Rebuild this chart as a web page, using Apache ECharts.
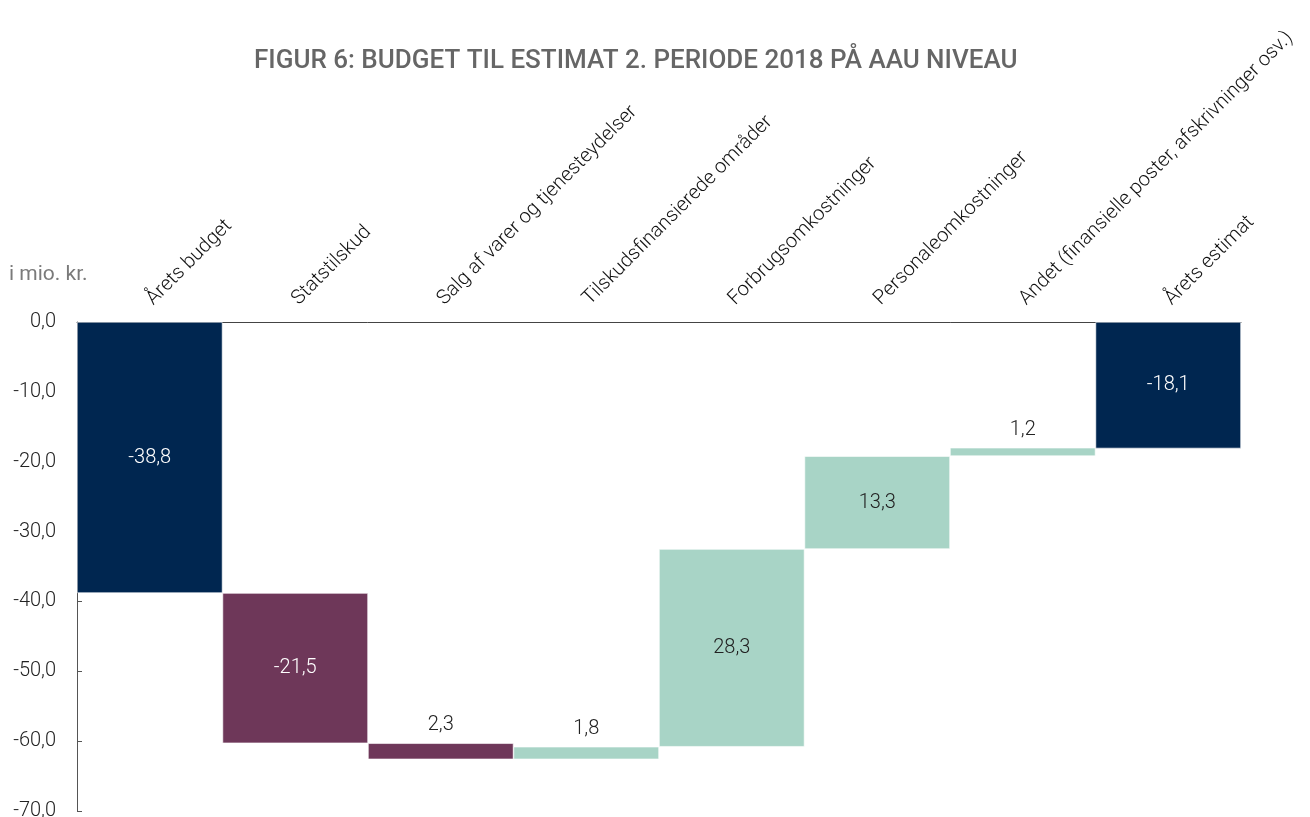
<!DOCTYPE html>
<html>
<head>
<meta charset="utf-8">
<script src="https://cdn.jsdelivr.net/npm/echarts@6/dist/echarts.min.js"></script>
<style>
  html, body { margin: 0; padding: 0; background: #fff; }
  #main { width: 1310px; height: 817px; }
</style>
</head>
<body>
<div id="main"></div>
<script>
// kategorier og aendringer (i mio. kr.)
var categories = ['Årets budget', 'Statstilskud', 'Salg af varer og tjenesteydelser',
  'Tilskudsfinansierede områder', 'Forbrugsomkostninger', 'Personaleomkostninger',
  'Andet (finansielle poster, afskrivninger osv.)', 'Årets estimat'];
var changes = [-38.8, -21.5, -2.3, 1.8, 28.3, 13.3, 1.2, -18.1];
var labels = ['-38,8', '-21,5', '2,3', '1,8', '28,3', '13,3', '1,2', '-18,1'];
var isTotal = [true, false, false, false, false, false, false, true];
var yTicks = [0, -10, -20, -30, -40, -50, -60, -70];

var NAVY = '#002650', PURPLE = '#6e3759', MINT = '#a8d4c6';
var FONT = 'Roboto';

document.addEventListener('DOMContentLoaded', function () {
  var myChart = echarts.init(document.getElementById('main'));

  // byg vandfald: usynlig basis + synlig del
  var base = [], bar = [], run = 0;
  changes.forEach(function (d, i) {
    var color = isTotal[i] ? NAVY : (d < 0 ? PURPLE : MINT);
    var start = isTotal[i] ? 0 : run;
    var end = start + d;
    var hi = Math.max(start, end), lo = Math.min(start, end);
    base.push(hi);
    var small = Math.abs(d) < 5;
    bar.push({
      value: lo - hi,
      itemStyle: { color: color },
      label: {
        position: small ? 'top' : 'inside',
        color: (color === MINT || small) ? '#222' : '#fff',
        formatter: labels[i]
      }
    });
    run = end;
  });

  var option = {
    title: {
      text: 'FIGUR 6: BUDGET TIL ESTIMAT 2. PERIODE 2018 PÅ AAU NIVEAU',
      left: 249,
      top: 43,
      textStyle: { fontFamily: FONT, fontSize: 26, fontWeight: 500, color: '#666' }
    },
    graphic: [{
      type: 'text', left: 9, top: 264,
      style: { text: 'i mio. kr.', font: '21px Roboto', fill: '#7a7a7a' }
    }],
    grid: { left: 77, right: 69, top: 322, bottom: 6, outerBoundsMode: 'none' },
    xAxis: {
      type: 'category',
      position: 'top',
      data: categories,
      axisLine: { lineStyle: { color: '#444' } },
      axisTick: { lineStyle: { color: '#444' }, length: 5 },
      axisLabel: { rotate: 45, fontFamily: FONT, fontWeight: 300, fontSize: 20, color: '#111', margin: 20, interval: 0 }
    },
    yAxis: {
      type: 'value',
      min: -70, max: 0, interval: 10,
      axisLine: { show: true, lineStyle: { color: '#555' } },
      axisTick: { show: true, inside: true, lineStyle: { color: '#555' }, length: 5 },
      splitLine: { show: false },
      axisLabel: {
        fontFamily: FONT, fontWeight: 300, fontSize: 20, color: '#222', margin: 21,
        formatter: function (v) { return yTicks.indexOf(v) >= 0 ? v.toFixed(1).replace('.', ',') : ''; }
      }
    },
    series: [{
      type: 'bar',
      stack: 'w',
      data: base,
      itemStyle: { color: 'transparent' },
      silent: true,
      barCategoryGap: '0%'
    }, {
      type: 'bar',
      stack: 'w',
      data: bar,
      barCategoryGap: '0%',
      itemStyle: { borderColor: '#fff', borderWidth: 0.6 },
      label: { show: true, fontFamily: FONT, fontWeight: 300, fontSize: 20, distance: 8 }
    }]
  };
  myChart.setOption(option);
});
</script>
</body>
</html>
